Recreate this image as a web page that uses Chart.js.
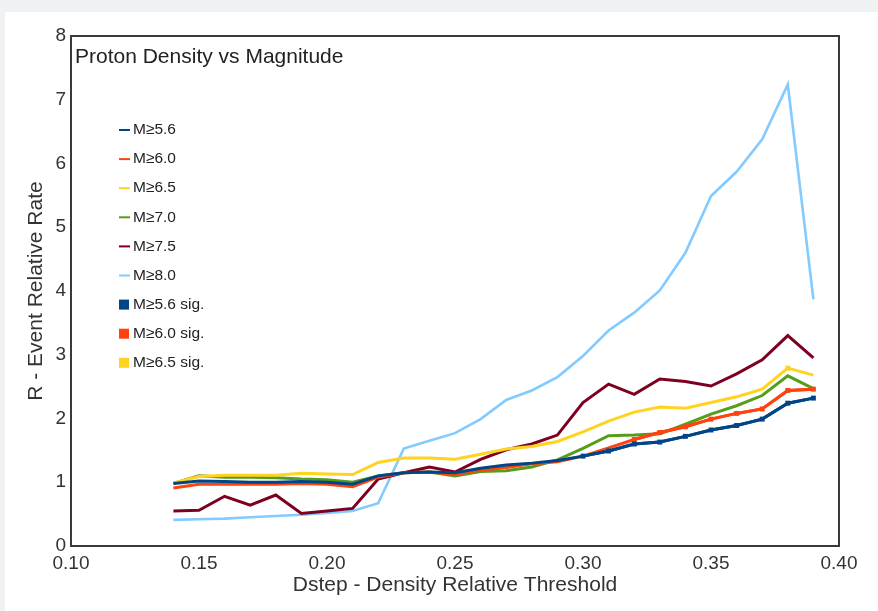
<!DOCTYPE html>
<html>
<head>
<meta charset="utf-8">
<script src="https://cdn.jsdelivr.net/npm/chart.js@4"></script>
<style>
html,body{margin:0;padding:0;background:#f0f1f3;}
#wrap{position:absolute;left:0;top:0;width:878px;height:611px;}
canvas{display:block;}
</style>
</head>
<body>
<div id="wrap"><canvas id="c" width="878" height="611"></canvas></div>
<script>
// ---- data ----
const chartTitle = "Proton Density vs Magnitude";
const xTitle = "Dstep - Density Relative Threshold";
const yTitle = "R - Event Relative Rate";
const dstep = [0.14,0.15,0.16,0.17,0.18,0.19,0.20,0.21,0.22,0.23,0.24,0.25,0.26,0.27,0.28,0.29,0.30,0.31,0.32,0.33,0.34,0.35,0.36,0.37,0.38,0.39];
const seriesNames = ["M≥5.6","M≥6.0","M≥6.5","M≥7.0","M≥7.5","M≥8.0","M≥5.6 sig.","M≥6.0 sig.","M≥6.5 sig."];
const m56 = [0.98,1.02,1.01,1.00,1.00,1.01,1.00,0.97,1.10,1.15,1.16,1.15,1.22,1.27,1.30,1.34,1.41,1.49,1.60,1.63,1.72,1.82,1.89,1.99,2.24,2.32];
const m60 = [0.91,0.97,0.97,0.97,0.97,0.98,0.97,0.93,1.08,1.15,1.16,1.12,1.19,1.23,1.29,1.32,1.41,1.54,1.67,1.78,1.87,1.99,2.08,2.15,2.44,2.46];
const m65 = [0.99,1.09,1.11,1.11,1.11,1.14,1.13,1.12,1.31,1.38,1.38,1.36,1.44,1.52,1.56,1.64,1.79,1.96,2.10,2.18,2.16,2.25,2.34,2.46,2.79,2.68];
const m70 = [0.98,1.10,1.08,1.08,1.07,1.05,1.04,1.00,1.10,1.15,1.16,1.10,1.17,1.18,1.24,1.35,1.53,1.73,1.74,1.76,1.91,2.07,2.20,2.36,2.67,2.47];
const m75 = [0.55,0.56,0.78,0.64,0.80,0.51,0.55,0.59,1.05,1.15,1.24,1.16,1.36,1.51,1.60,1.74,2.25,2.54,2.38,2.62,2.58,2.51,2.70,2.92,3.30,2.95];
const m80 = [0.41,0.42,0.43,0.45,0.47,0.49,0.52,0.55,0.67,1.53,1.65,1.77,1.99,2.29,2.44,2.65,2.98,3.38,3.66,4.01,4.60,5.49,5.87,6.38,7.24,3.87];
const m56sig = [null,null,null,null,null,null,null,null,null,null,null,null,null,null,null,null,1.41,1.49,1.60,1.63,1.72,1.82,1.89,1.99,2.24,2.32];
const m60sig = [null,null,null,null,null,null,null,null,null,null,null,null,null,null,null,null,null,null,1.67,1.78,1.87,1.99,2.08,2.15,2.44,2.46];
const m65sig = [null,null,null,null,null,null,null,null,null,null,null,null,null,null,null,null,null,null,null,null,null,null,null,null,2.79,null];
const yTicks = [0,1,2,3,4,5,6,7,8];
const xTicks = [0.10,0.15,0.20,0.25,0.30,0.35,0.40];

const colors = ["#004586","#ff420e","#ffd320","#579d1c","#7e0021","#83caff","#004586","#ff420e","#ffd320"];
const lineSeries = [m56,m60,m65,m70,m75,m80];
const sigSeries = [m56sig,m60sig,m65sig];
const toPts = arr => dstep.map((x,i)=>({x:x,y:arr[i]}));

const datasets = [];
lineSeries.forEach((s,i)=>{
  datasets.push({label:seriesNames[i], data:toPts(s), borderColor:colors[i], backgroundColor:colors[i],
    borderWidth:(i===5?2.6:3), pointRadius:0, tension:0, order:i+1, isSig:false});
});
sigSeries.forEach((s,j)=>{
  const i = j+6;
  datasets.push({label:seriesNames[i], data:toPts(s), borderColor:colors[i], backgroundColor:colors[i],
    borderWidth:3, pointRadius:3.5, pointStyle:'rect', pointBorderWidth:0, tension:0, spanGaps:false, order:0, isSig:true});
});

const FONT = "'Liberation Sans', Arial, sans-serif";

const bgPlugin = {
  id:'bg',
  beforeDraw(chart){
    const ctx = chart.ctx;
    ctx.save();
    ctx.fillStyle = '#f0f1f3';
    ctx.fillRect(0,0,chart.width,chart.height);
    ctx.fillStyle = '#ffffff';
    ctx.fillRect(5,12,chart.width-5,chart.height-12);
    ctx.restore();
  },
  afterDatasetsDraw(chart){
    const ctx = chart.ctx, a = chart.chartArea;
    ctx.save();
    ctx.strokeStyle = '#3a3a3a';
    ctx.lineWidth = 2;
    ctx.strokeRect(a.left, a.top, a.right-a.left, a.bottom-a.top);
    // title
    ctx.fillStyle = '#222';
    ctx.font = "21px " + FONT;
    ctx.textBaseline = 'middle';
    ctx.textAlign = 'left';
    ctx.fillText(chartTitle, a.left+4, 57);
    // legend
    ctx.font = "15.5px " + FONT;
    chart.data.datasets.forEach((ds,i)=>{
      const y = 130 + i*29.1;
      if (ds.isSig){
        ctx.fillStyle = ds.borderColor;
        ctx.fillRect(119, y-5, 10, 10);
      } else {
        ctx.strokeStyle = ds.borderColor;
        ctx.lineWidth = 2;
        ctx.beginPath(); ctx.moveTo(119,y); ctx.lineTo(130,y); ctx.stroke();
      }
      ctx.fillStyle = '#222';
      ctx.fillText(ds.label, 133, y);
    });
    ctx.restore();
  }
};

new Chart(document.getElementById('c'), {
  type:'line',
  data:{datasets:datasets},
  options:{
    responsive:false,
    animation:false,
    layout:{padding:{left:0, top:36, right:39, bottom:0}},
    plugins:{legend:{display:false}, tooltip:{enabled:false}, title:{display:false}},
    scales:{
      x:{
        type:'linear', min:0.10, max:0.40,
        afterBuildTicks(scale){ scale.ticks = xTicks.map(v=>({value:v})); },
        afterFit(scale){ scale.height = 65; },
        grid:{display:false, drawTicks:false},
        border:{display:false},
        ticks:{padding:6, color:'#333', font:{family:FONT, size:19}, callback:v=>Number(v).toFixed(2), maxRotation:0, autoSkip:false},
        title:{display:true, text:xTitle, color:'#333', font:{family:FONT, size:21}, padding:{top:0,bottom:13}}
      },
      y:{
        type:'linear', min:0, max:8,
        afterBuildTicks(scale){ scale.ticks = yTicks.map(v=>({value:v})); },
        afterFit(scale){ scale.width = 71; },
        grid:{display:false, drawTicks:false},
        border:{display:false},
        ticks:{padding:5, color:'#333', font:{family:FONT, size:19}, autoSkip:false},
        title:{display:true, text:yTitle, color:'#333', font:{family:FONT, size:21}, padding:{top:24,bottom:0}}
      }
    }
  },
  plugins:[bgPlugin]
});
</script>
</body>
</html>
